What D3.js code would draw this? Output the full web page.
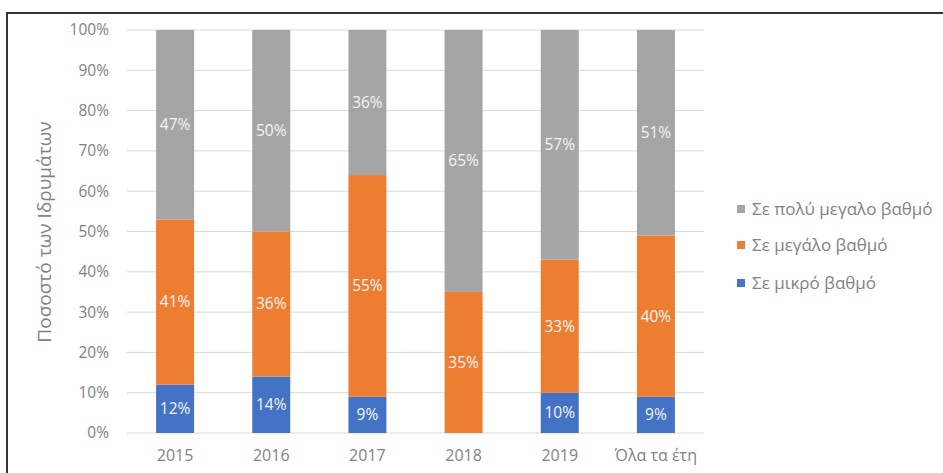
<!DOCTYPE html>
<html>
<head>
<meta charset="utf-8">
<script src="https://cdn.jsdelivr.net/npm/d3@7"></script>
<style>
  html, body { margin: 0; padding: 0; background: #ffffff; }
  svg { display: block; font-family: "Open Sans", "DejaVu Sans", sans-serif; }
</style>
</head>
<body>
<svg id="chart" width="943" height="473"></svg>
<script>
const categories = ["2015", "2016", "2017", "2018", "2019", "Όλα τα έτη"];
const seriesNames = ["Σε μικρό βαθμό", "Σε μεγάλο βαθμό", "Σε πολύ μεγαλο βαθμό"];
const smallDegree = [12, 14, 9, 0, 10, 9];
const largeDegree = [41, 36, 55, 35, 33, 40];
const veryLargeDegree = [47, 50, 36, 65, 57, 51];
const yTicks = [0, 10, 20, 30, 40, 50, 60, 70, 80, 90, 100];
const yTitle = "Ποσοστό των Ιδρυμάτων";
const colors = ["#4472c4", "#ed7d31", "#a5a5a5"];
const textColor = "#828282";

const svg = d3.select("#chart");

// outer frame
svg.append("rect")
  .attr("x", 7).attr("y", 13)
  .attr("width", 960).attr("height", 480)
  .attr("fill", "none").attr("stroke", "#333").attr("stroke-width", 2);

const x = d3.scaleBand().domain(categories).range([127, 704]).paddingInner(0.605).paddingOuter(0.3025);
const y = d3.scaleLinear().domain([0, 100]).range([433, 30]);

// grid
svg.append("g").selectAll("line").data(yTicks).join("line")
  .attr("x1", 127).attr("x2", 704)
  .attr("y1", d => y(d)).attr("y2", d => y(d))
  .attr("stroke", "#d9d9d9").attr("stroke-width", 1);

// y axis labels
const yAxis = d3.axisLeft(y).tickValues(yTicks).tickFormat(d => d + "%").tickSize(0).tickPadding(0);
const ya = svg.append("g").attr("transform", "translate(109,0)").call(yAxis);
ya.select(".domain").remove();
ya.selectAll("text").attr("fill", textColor).style("font-size", "15.5px").style("font-family", "Open Sans, sans-serif");

// x axis labels
const xAxis = d3.axisBottom(x).tickSize(0).tickPadding(0);
const xa = svg.append("g").attr("transform", "translate(0,450)").call(xAxis);
xa.select(".domain").remove();
xa.selectAll("text").attr("fill", textColor).style("font-size", "16px").style("font-family", "Open Sans, sans-serif");

// stacked data
const rows = categories.map((c, i) => ({cat: c, s0: smallDegree[i], s1: largeDegree[i], s2: veryLargeDegree[i]}));
const stack = d3.stack().keys(["s0", "s1", "s2"]);
const stacked = stack(rows);

const layers = svg.append("g").selectAll("g").data(stacked).join("g")
  .attr("fill", (d, i) => colors[i]);
layers.selectAll("rect").data(d => d).join("rect")
  .attr("x", d => x(d.data.cat))
  .attr("width", x.bandwidth())
  .attr("y", d => y(d[1]))
  .attr("height", d => y(d[0]) - y(d[1]));

// labels
const lab = svg.append("g");
stacked.forEach(layer => {
  layer.forEach(d => {
    const v = d[1] - d[0];
    if (v <= 0) return;
    lab.append("text")
      .attr("x", x(d.data.cat) + x.bandwidth() / 2)
      .attr("y", y((d[0] + d[1]) / 2))
      .attr("dy", "0.35em")
      .attr("text-anchor", "middle")
      .attr("fill", "#f4f4f4")
      .style("font-size", "15.5px")
      .text(v + "%");
  });
});

// y title
svg.append("text")
  .attr("transform", "translate(44,232) rotate(-90)")
  .attr("text-anchor", "middle")
  .attr("dy", "0.35em")
  .attr("fill", textColor)
  .style("font-size", "19px")
  .text(yTitle);

// legend (reverse order)
const legendOrder = [2, 1, 0];
const legendY = [209, 245, 283];
const lg = svg.append("g");
legendOrder.forEach((si, k) => {
  lg.append("rect").attr("x", 737).attr("y", legendY[k] - 4).attr("width", 8).attr("height", 8).attr("fill", colors[si]);
  lg.append("text").attr("x", 752).attr("y", legendY[k]).attr("dy", "0.35em")
    .attr("fill", textColor).style("font-size", "17px").text(seriesNames[si]);
});
</script>
</body>
</html>
